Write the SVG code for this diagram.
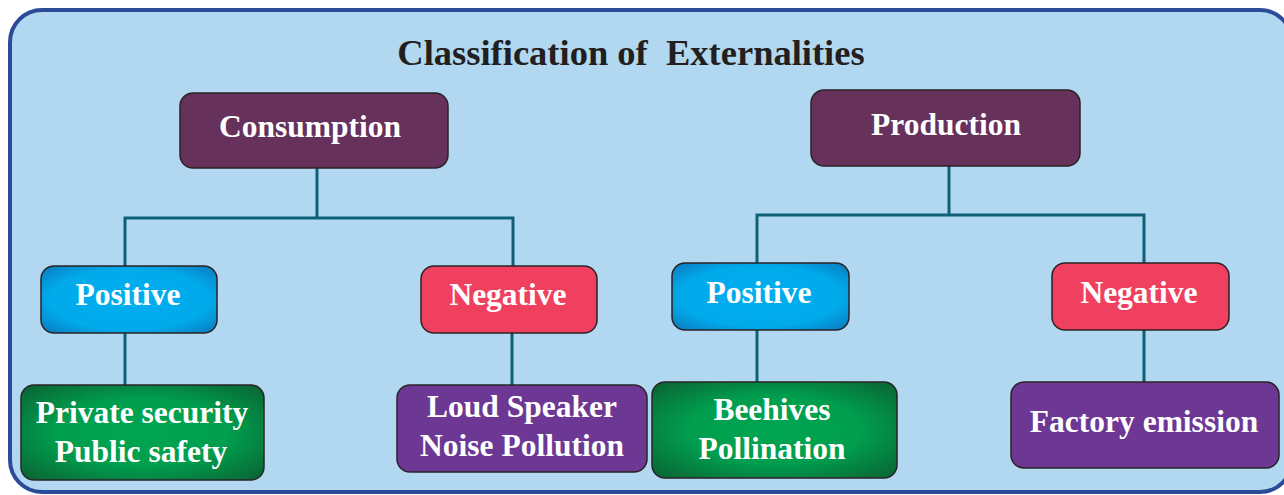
<svg xmlns="http://www.w3.org/2000/svg" width="1284" height="495" viewBox="0 0 1284 495">
<style>
.box{stroke:#2a2326;stroke-width:1.5}
.t{font-family:"Liberation Serif",serif;font-weight:bold;fill:#ffffff;text-anchor:middle;font-size:31.5px}
.title{font-family:"Liberation Serif",serif;font-weight:bold;fill:#231f20;text-anchor:middle;font-size:36.5px;white-space:pre}
.conn{stroke:#0f6076;stroke-width:3;fill:none;stroke-linecap:square}
</style>
<defs>
<radialGradient id="gBlue" cx="50%" cy="50%" r="70%">
<stop offset="0" stop-color="#00aeef"/>
<stop offset="0.65" stop-color="#00aaeb"/>
<stop offset="1" stop-color="#0b78bb"/>
</radialGradient>
<radialGradient id="gGreen" cx="50%" cy="50%" r="70%">
<stop offset="0" stop-color="#00a551"/>
<stop offset="0.5" stop-color="#009e4e"/>
<stop offset="1" stop-color="#0a6232"/>
</radialGradient>
</defs>
<rect x="0" y="0" width="1284" height="495" fill="#ffffff"/>
<rect id="frame" x="10" y="10" width="1282" height="482" rx="32" fill="#b2d8f1" stroke="#2b4a98" stroke-width="4"/>
<text id="title" class="title" x="631" y="65">Classification of  Externalities</text>

<g id="connectors">
<path class="conn" d="M317 168 V218 M125 218 H513 M125 218 V266 M513 218 V266"/>
<path class="conn" d="M949 166 V215 M757 215 H1144 M757 215 V263 M1144 215 V263"/>
<path class="conn" d="M125 333 V385"/>
<path class="conn" d="M512 333 V385"/>
<path class="conn" d="M757 330 V382"/>
<path class="conn" d="M1144 330 V382"/>
</g>

<g id="consumption">
<rect class="box" x="180" y="93" width="268" height="75" rx="13" fill="#66325c"/>
<text class="t" x="310" y="137">Consumption</text>
</g>
<g id="production">
<rect class="box" x="811" y="90" width="269" height="76" rx="13" fill="#66325c"/>
<text class="t" x="946" y="135">Production</text>
</g>

<g id="cons-positive">
<rect class="box" x="41" y="266" width="176" height="67" rx="13" fill="url(#gBlue)"/>
<text class="t" x="128" y="305">Positive</text>
</g>
<g id="cons-negative">
<rect class="box" x="421" y="266" width="176" height="67" rx="13" fill="#ef415f"/>
<text class="t" x="508" y="305">Negative</text>
</g>
<g id="prod-positive">
<rect class="box" x="672" y="263" width="177" height="67" rx="13" fill="url(#gBlue)"/>
<text class="t" x="759" y="303">Positive</text>
</g>
<g id="prod-negative">
<rect class="box" x="1052" y="263" width="177" height="67" rx="13" fill="#ef415f"/>
<text class="t" x="1139" y="303">Negative</text>
</g>

<g id="private-security">
<rect class="box" x="21" y="385" width="243" height="95" rx="13" fill="url(#gGreen)"/>
<text class="t" x="142" y="423">Private security</text>
<text class="t" x="141" y="462">Public safety</text>
</g>
<g id="loud-speaker">
<rect class="box" x="397" y="385" width="250" height="87" rx="13" fill="#6d3894"/>
<text class="t" x="522" y="417">Loud Speaker</text>
<text class="t" x="522" y="456">Noise Pollution</text>
</g>
<g id="beehives">
<rect class="box" x="652" y="382" width="245" height="96" rx="13" fill="url(#gGreen)"/>
<text class="t" x="772" y="420">Beehives</text>
<text class="t" x="772" y="459">Pollination</text>
</g>
<g id="factory">
<rect class="box" x="1011" y="382" width="268" height="86" rx="13" fill="#6d3894"/>
<text class="t" x="1144" y="432">Factory emission</text>
</g>
</svg>
